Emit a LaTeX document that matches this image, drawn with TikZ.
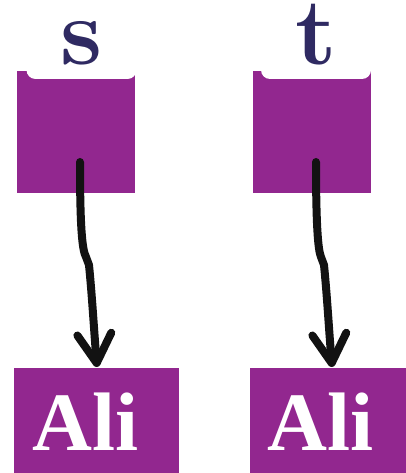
\documentclass[tikz,border=0pt]{standalone}
\usepackage{fontspec}
\newfontfamily\alifont{Liberation Serif}
\usetikzlibrary{arrows.meta}
\definecolor{boxpurple}{RGB}{146,39,143}
\definecolor{labelnavy}{RGB}{47,42,98}
\begin{document}
\begin{tikzpicture}[x=1pt,y=-1pt,
  topbox/.style={fill=boxpurple, draw=none, minimum width=118pt, minimum height=122pt, inner sep=0pt},
  botbox/.style={fill=boxpurple, draw=none, anchor=north west, inner sep=0pt},
  varlabel/.style={fill=white, draw=none, rounded corners=9pt, minimum width=110pt,
    text height=58pt, text depth=14pt, inner sep=0pt, anchor=base,
    text=labelnavy, font=\fontsize{95}{95}\selectfont\bfseries},
  alitext/.style={text=white, font=\alifont\fontsize{83}{83}\selectfont\bfseries, anchor=base, inner sep=0pt},
  ptr/.style={line width=8pt, draw=black!93, line cap=round, line join=round,
    -{Straight Barb[length=29pt,width=34pt,line cap=round,line join=round]}}
]
\useasboundingbox (0,0) rectangle (406,473);
% top boxes
\node[topbox] (sbox) at (76,132) {};
\node[topbox] (tbox) at (312,132) {};
\node[varlabel] (slab) at (81.5,65) {s};
\node[varlabel] (tlab) at (316,65) {t};
% bottom boxes
\node[botbox, minimum width=165pt, minimum height=105pt] (abox) at (14,368) {};
\node[botbox, minimum width=156pt, minimum height=105pt] (bbox) at (250,368) {};
\node[alitext] (atext) at (85.5,450) {Ali};
\node[alitext] (btext) at (321,450) {Ali};
% pointer start points and bends
\coordinate (sstart) at (80,162);
\coordinate (tstart) at (316,162);
\coordinate (sk1) at (86,257);
\coordinate (sk2) at (89,265);
\coordinate (tk1) at (321,257);
\coordinate (tk2) at (324,265);
\coordinate (send) at (97,367);
\coordinate (tend) at (332,367);
\draw[ptr] (sstart) .. controls (80,225) and (82,250) .. (sk1) -- (sk2) .. controls (92,295) and (94,330) .. (send);
\draw[ptr] (tstart) .. controls (316,225) and (318,250) .. (tk1) -- (tk2) .. controls (327,295) and (329,330) .. (tend);
\end{tikzpicture}
\end{document}
